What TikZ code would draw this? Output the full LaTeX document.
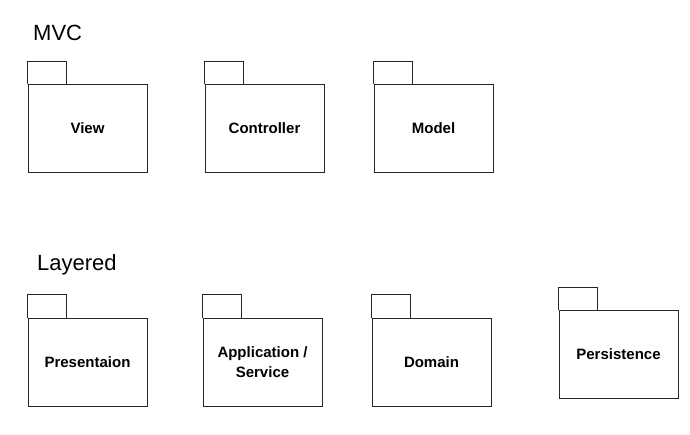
\documentclass[tikz,border=0pt]{standalone}
\usepackage{fontspec}
\setmainfont{Liberation Sans}
\begin{document}
\begin{tikzpicture}[x=1pt,y=-1pt,
  pkgbody/.style={draw=black!85,line width=1pt,minimum width=119pt,minimum height=88pt,inner sep=0pt,align=center,font=\fontsize{15}{20.5}\selectfont\bfseries},
  pkgtab/.style={draw=black!85,line width=1pt},
  titletext/.style={anchor=base west,inner sep=0pt,font=\fontsize{22}{26}\selectfont}]
\useasboundingbox (0,0) rectangle (690,434);
\node[titletext] (mvc) at (33,40) {MVC};
\node[titletext] (layered) at (37,270) {Layered};
\node[pkgbody] (view) at (87.5,128.5) {View};
\node[pkgbody] (controller) at (264.5,128.5) {Controller};
\node[pkgbody] (model) at (433.5,128.5) {Model};
\node[pkgbody] (pres) at (87.5,362) {Presentaion};
\node[pkgbody] (app) at (262.5,362) {Application /\\Service};
\node[pkgbody] (domain) at (431.5,362) {Domain};
\node[pkgbody] (persist) at (618.5,354.5) {Persistence};
\foreach \n in {view,controller,model,pres,app,domain,persist}{
  \draw[pkgtab] (\n.north west) -- ++(0,-23) -- ++(39,0) -- ++(0,23);
}
\end{tikzpicture}
\end{document}
